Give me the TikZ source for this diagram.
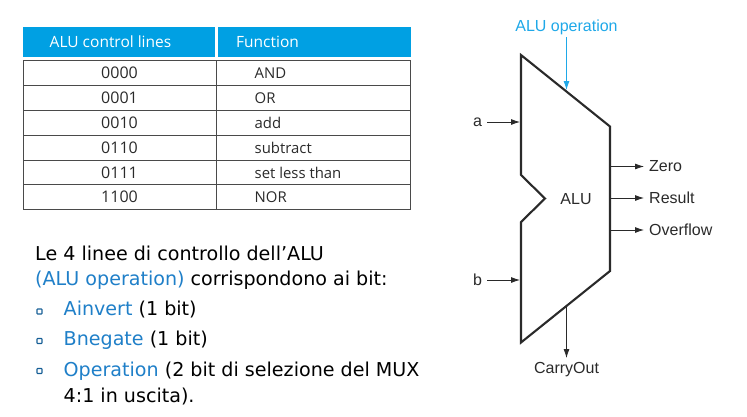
\documentclass[tikz,border=0pt]{standalone}
\usepackage{fontspec}
\setmainfont{Liberation Sans}
\newfontfamily\tabfont{Open Sans}
\newfontfamily\bodyfont{DejaVu Sans}
\usetikzlibrary{arrows.meta}
\definecolor{hdr}{HTML}{00A0E3}
\definecolor{opblue}{HTML}{1FA8E8}
\definecolor{txtblue}{HTML}{1F7FC8}
\definecolor{ink}{HTML}{2A2A2A}
\tikzset{
  hdrtext/.style={inner sep=0pt,text=white,font=\tabfont\fontsize{15.5}{18}\selectfont},
  cellc/.style={font=\tabfont\fontsize{16}{18}\selectfont,text=ink,inner sep=0pt,anchor=center},
  celll/.style={font=\tabfont\fontsize{14.9}{18}\selectfont,text=ink,inner sep=0pt,anchor=west},
  rule/.style={draw=ink!85,line width=0.9pt},
  aluline/.style={draw=ink,line width=2.1pt,line join=miter},
  lab/.style={font=\fontsize{16}{18}\selectfont,text=ink,inner sep=0pt},
  wire/.style={draw=ink,line width=0.8pt,-{Latex[length=9pt,width=6pt]}},
  body/.style={font=\bodyfont\fontsize{19.1}{24}\selectfont,text=black,inner sep=0pt,anchor=base west},
  bul/.style={draw=txtblue!75!black,line width=1.1pt,minimum size=5pt,inner sep=0pt,rounded corners=0.6pt}
}
\begin{document}
\begin{tikzpicture}[x=1pt,y=-1pt]
\useasboundingbox (0,0) rectangle (747,416);
% table
\fill[hdr] (23,26.5) rectangle (215,56.5);
\fill[hdr] (218,26.5) rectangle (410.5,56.5);
\node[hdrtext] (h1) at (110.5,42) {ALU control lines};
\node[hdrtext,anchor=west] (h2) at (236,42) {Function};
\draw[rule] (23,60.7) rectangle (410.5,209.5);
\draw[rule] (216.5,60.7) -- (216.5,209.5);
\foreach \y in {85.5,110,135,160,184.5}{\draw[rule] (23,\y) -- (410.5,\y);}
\node[cellc] (c1) at (119.5,73) {0000};
\node[cellc] (c2) at (119.5,98) {0001};
\node[cellc] (c3) at (119.5,123) {0010};
\node[cellc] (c4) at (119.5,147.5) {0110};
\node[cellc] (c5) at (119.5,172.5) {0111};
\node[cellc] (c6) at (119.5,197) {1100};
\node[celll] (f1) at (254.5,73) {AND};
\node[celll] (f2) at (254.5,98) {OR};
\node[celll] (f3) at (254.5,123) {add};
\node[celll] (f4) at (254.5,147.5) {subtract};
\node[celll] (f5) at (254.5,172.5) {set less than};
\node[celll] (f6) at (254.5,197) {NOR};
% body text
\node[body] (t1) at (35,260) {Le 4 linee di controllo dell’ALU};
\node[body] (t2) at (35,285) {\textcolor{txtblue}{(ALU operation)} corrispondono ai bit:};
\node[body] (t3) at (63.5,315) {\textcolor{txtblue}{Ainvert} (1 bit)};
\node[body] (t4) at (63.5,345) {\textcolor{txtblue}{Bnegate} (1 bit)};
\node[body] (t5) at (63.5,376) {\textcolor{txtblue}{Operation} (2 bit di selezione del MUX};
\node[body] (t6) at (63.5,402) {4:1 in uscita).};
\node[bul] (b1) at (39.5,311.5) {};
\node[bul] (b2) at (39.5,341) {};
\node[bul] (b3) at (39.5,371) {};
% ALU
\coordinate (tl) at (521,55);
\coordinate (tr) at (610,126.5);
\coordinate (br) at (610,271);
\coordinate (bl) at (521,342.5);
\draw[aluline] (tl) -- (tr) -- (br) -- (bl) -- (521,222) -- (545,198.5) -- (521,175) -- cycle;
\node[lab] (alu) at (576,199) {ALU};
\node[font=\fontsize{16}{18}\selectfont,text=opblue,inner sep=0pt] (op) at (566.5,27) {ALU operation};
\coordinate (opend) at (566.5,90);
\draw[draw=opblue,line width=0.9pt,-{Latex[length=9pt,width=6pt]}] (566.5,37) -- (opend);
\node[lab] (a) at (477.5,122.5) {a};
\node[lab] (b) at (477.5,280) {b};
\coordinate (ain) at (520,122);
\coordinate (bin) at (520,280);
\draw[wire] (487,122) -- (ain);
\draw[wire] (487,280) -- (bin);
\node[lab,anchor=west] (zero) at (649,166) {Zero};
\node[lab,anchor=west] (result) at (649,198) {Result};
\node[lab,anchor=west] (over) at (649,229.5) {Overflow};
\coordinate (z0) at (611,166.5);
\coordinate (r0) at (611,198);
\coordinate (o0) at (611,230);
\draw[wire] (z0) -- (644,166.5);
\draw[wire] (r0) -- (644,198);
\draw[wire] (o0) -- (644,230);
\node[lab] (carry) at (566.5,369.5) {CarryOut};
\coordinate (c0) at (566.5,306);
\draw[wire] (c0) -- (566.5,358);
\end{tikzpicture}
\end{document}
